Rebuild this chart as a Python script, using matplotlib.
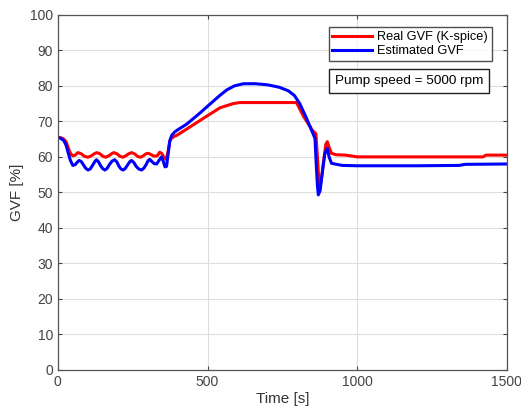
import matplotlib
matplotlib.use("Agg")
import matplotlib.pyplot as plt
import numpy as np

plt.rcParams['font.family'] = ['Liberation Sans', 'DejaVu Sans']

# GVF traces, time in seconds, GVF in percent
t_real = [0, 10, 20, 28, 35, 42, 50, 58, 67, 78, 88, 100, 112, 122, 130, 140, 150, 160, 172, 180,
          187, 197, 207, 217, 227, 237, 247, 257, 267, 277, 287, 295, 303, 312, 322, 332, 340, 347,
          355, 362, 368, 374, 380, 388, 400, 474, 541, 585, 608, 700, 797, 820, 850, 862,
          867, 873, 880, 888, 895, 900, 907, 914, 930, 960, 986, 1000, 1200, 1420, 1430, 1500]
gvf_real = [65.5, 65.4, 65.0, 64.2, 62.5, 61.0, 60.3, 60.5, 61.2, 60.9, 60.2, 59.9, 60.3, 60.9,
            61.2, 60.9, 60.2, 59.9, 60.4, 60.9, 61.2, 60.9, 60.2, 59.9, 60.3, 60.9, 61.2, 60.8,
            60.1, 59.9, 60.4, 60.9, 61.0, 60.6, 60.2, 60.3, 61.3, 61.0, 59.8, 59.3, 61.5, 64.5,
            65.3, 65.7, 66.2, 70.2, 73.8, 75.0, 75.3, 75.3, 75.3, 71.5, 67.5, 66.5,
            60.0, 51.6, 53.5, 59.0, 63.5, 64.3, 62.5, 61.0, 60.6, 60.5, 60.2, 60.0, 60.0, 60.0,
            60.5, 60.5]

t_est = [0, 10, 20, 28, 35, 42, 50, 58, 66, 71, 78, 86, 93, 101, 108, 116, 123, 129, 136, 143,
         150, 157, 164, 172, 181, 190, 197, 204, 211, 218, 225, 232, 240, 246, 254, 262, 270, 280,
         288, 296, 302, 307, 314, 322, 330, 338, 346, 352, 358, 363, 368, 374, 380, 390, 400, 430,
         474, 510, 541, 565, 590, 620, 660, 700, 740, 770, 790, 808, 830, 850, 859, 863, 867, 870,
         876, 884, 892, 900, 906, 914, 925, 950, 1000, 1200, 1340, 1360, 1500]
gvf_est = [65.5, 65.2, 64.6, 63.2, 61.0, 59.0, 57.6, 57.8, 58.6, 59.0, 58.7, 57.7, 56.8, 56.3,
           56.6, 57.6, 58.6, 59.2, 58.6, 57.5, 56.7, 56.3, 56.7, 57.8, 58.8, 59.2, 58.6, 57.4,
           56.6, 56.3, 56.7, 57.6, 58.6, 59.0, 58.4, 57.3, 56.6, 56.3, 56.9, 58.0, 59.0, 59.3,
           58.7, 58.1, 58.0, 59.0, 60.0, 58.8, 57.2, 57.3, 60.5, 64.5, 66.0, 67.0, 67.6, 69.2,
           72.3, 75.0, 77.3, 78.9, 80.0, 80.6, 80.6, 80.3, 79.6, 78.6, 77.3, 75.0, 71.0, 67.0,
           65.2, 58.0, 52.0, 49.3, 50.5, 56.0, 61.0, 62.4, 60.0, 58.2, 58.0, 57.6, 57.5, 57.5,
           57.6, 57.9, 58.0]

fig = plt.figure(figsize=(5.21, 4.12), dpi=100)
ax = fig.add_axes([0.111, 0.102, 0.862, 0.862])

ax.plot(t_real, gvf_real, color='#ff0000', lw=2.2, label='Real GVF (K-spice)')
ax.plot(t_est, gvf_est, color='#0000ff', lw=2.2, label='Estimated GVF')

ax.set_xlim(0, 1500)
ax.set_ylim(0, 100)
ax.set_xticks([0, 500, 1000, 1500])
ax.set_yticks(np.arange(0, 101, 10))
ax.grid(True, color='#dedede', lw=0.8)
ax.tick_params(labelsize=10, direction='in', length=3, top=True, right=True,
               colors='#444444', labelcolor='#444444')
for s in ax.spines.values():
    s.set_color('#555555')
    s.set_linewidth(0.9)
ax.set_xlabel('Time [s]', fontsize=11, labelpad=2, color='#333333')
ax.set_ylabel('GVF [%]', fontsize=11, labelpad=4, color='#333333')

leg = ax.legend(loc='upper right', bbox_to_anchor=(0.966, 0.965), fontsize=9.2,
                frameon=True, fancybox=False, edgecolor='#222222', handlelength=3.1,
                borderpad=0.3, labelspacing=0.15, handletextpad=0.4, borderaxespad=0)
leg.get_frame().set_linewidth(1.0)

ax.text(0.617, 0.814, 'Pump speed = 5000 rpm', transform=ax.transAxes, fontsize=9.7,
        va='center', ha='left',
        bbox=dict(boxstyle='square,pad=0.45', fc='white', ec='#222222', lw=1.0))

fig.savefig('out.png', dpi=100)
